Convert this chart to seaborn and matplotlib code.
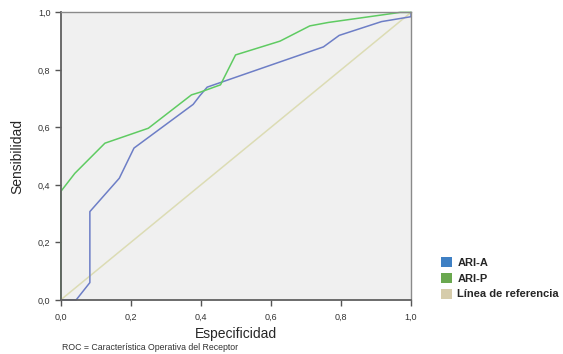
import numpy as np
import pandas as pd
import matplotlib
matplotlib.use("Agg")
import matplotlib.pyplot as plt
from matplotlib.patches import Patch
import seaborn as sns

# ROC curves (1 - especificidad on x, sensibilidad on y)
ari_a_x = [0.0, 0.044, 0.083, 0.083, 0.167, 0.209, 0.378, 0.397, 0.418, 0.75, 0.795, 0.916, 1.0, 1.0]
ari_a_y = [0.0, 0.0, 0.06, 0.307, 0.423, 0.528, 0.68, 0.71, 0.74, 0.88, 0.92, 0.968, 0.985, 1.0]
ari_p_x = [0.0, 0.0, 0.04, 0.126, 0.25, 0.373, 0.397, 0.456, 0.499, 0.626, 0.711, 0.764, 0.969, 1.0]
ari_p_y = [0.0, 0.377, 0.44, 0.545, 0.597, 0.713, 0.722, 0.748, 0.852, 0.90, 0.953, 0.965, 1.0, 1.0]
ref_x = [0.0, 1.0]
ref_y = [0.0, 1.0]

series = ["ARI-A", "ARI-P", "Línea de referencia"]
line_colors = {"ARI-A": "#6d7ec6", "ARI-P": "#5fcb62", "Línea de referencia": "#dcdcb4"}
legend_colors = ["#3f80c4", "#6aa84f", "#d6ccab"]

df = pd.concat([
    pd.DataFrame({"x": ari_a_x, "y": ari_a_y, "curva": "ARI-A", "orden": range(len(ari_a_x))}),
    pd.DataFrame({"x": ari_p_x, "y": ari_p_y, "curva": "ARI-P", "orden": range(len(ari_p_x))}),
    pd.DataFrame({"x": ref_x, "y": ref_y, "curva": "Línea de referencia", "orden": range(2)}),
], ignore_index=True)

sns.set_style("white")
plt.rcParams["font.family"] = ["Liberation Sans", "DejaVu Sans"]

fig = plt.figure(figsize=(5.63, 3.54), dpi=100)
ax = fig.add_axes([0.108, 0.153, 0.622, 0.812])
ax.set_facecolor("#f0f0f0")

for name in ["Línea de referencia", "ARI-A", "ARI-P"]:
    sub = df[df["curva"] == name]
    sns.lineplot(data=sub, x="x", y="y", sort=False, estimator=None,
                 color=line_colors[name], lw=1.1, ax=ax, legend=False, clip_on=False)

ax.set_xlim(0, 1)
ax.set_ylim(0, 1)
ticks = [0.0, 0.2, 0.4, 0.6, 0.8, 1.0]
labels = [f"{t:.1f}".replace(".", ",") for t in ticks]
ax.set_xticks(ticks, labels)
ax.set_yticks(ticks, labels)
ax.tick_params(axis="both", direction="out", length=4, width=1, color="#555555",
               labelsize=6.5, labelcolor="#333333", bottom=True, left=True)
ax.tick_params(axis="x", pad=5)
for side in ["left", "bottom"]:
    ax.spines[side].set_color("#606060")
    ax.spines[side].set_linewidth(1.3)
for side in ["top", "right"]:
    ax.spines[side].set_color("#8a8a8a")
    ax.spines[side].set_linewidth(1.0)

ax.set_xlabel("Especificidad", fontsize=10, labelpad=4)
ax.set_ylabel("Sensibilidad", fontsize=10, labelpad=10)

handles = [Patch(facecolor=c, edgecolor="none") for c in legend_colors]
leg = fig.legend(handles, series, loc="upper left", bbox_to_anchor=(0.765, 0.302),
                 frameon=False, handlelength=1.0, handleheight=1.0, handletextpad=0.5,
                 labelspacing=0.45, prop={"size": 8, "weight": "bold"})

fig.text(0.11, 0.012, "ROC = Característica Operativa del Receptor", fontsize=6.3, color="#333333")

fig.savefig("out.png", dpi=100)
